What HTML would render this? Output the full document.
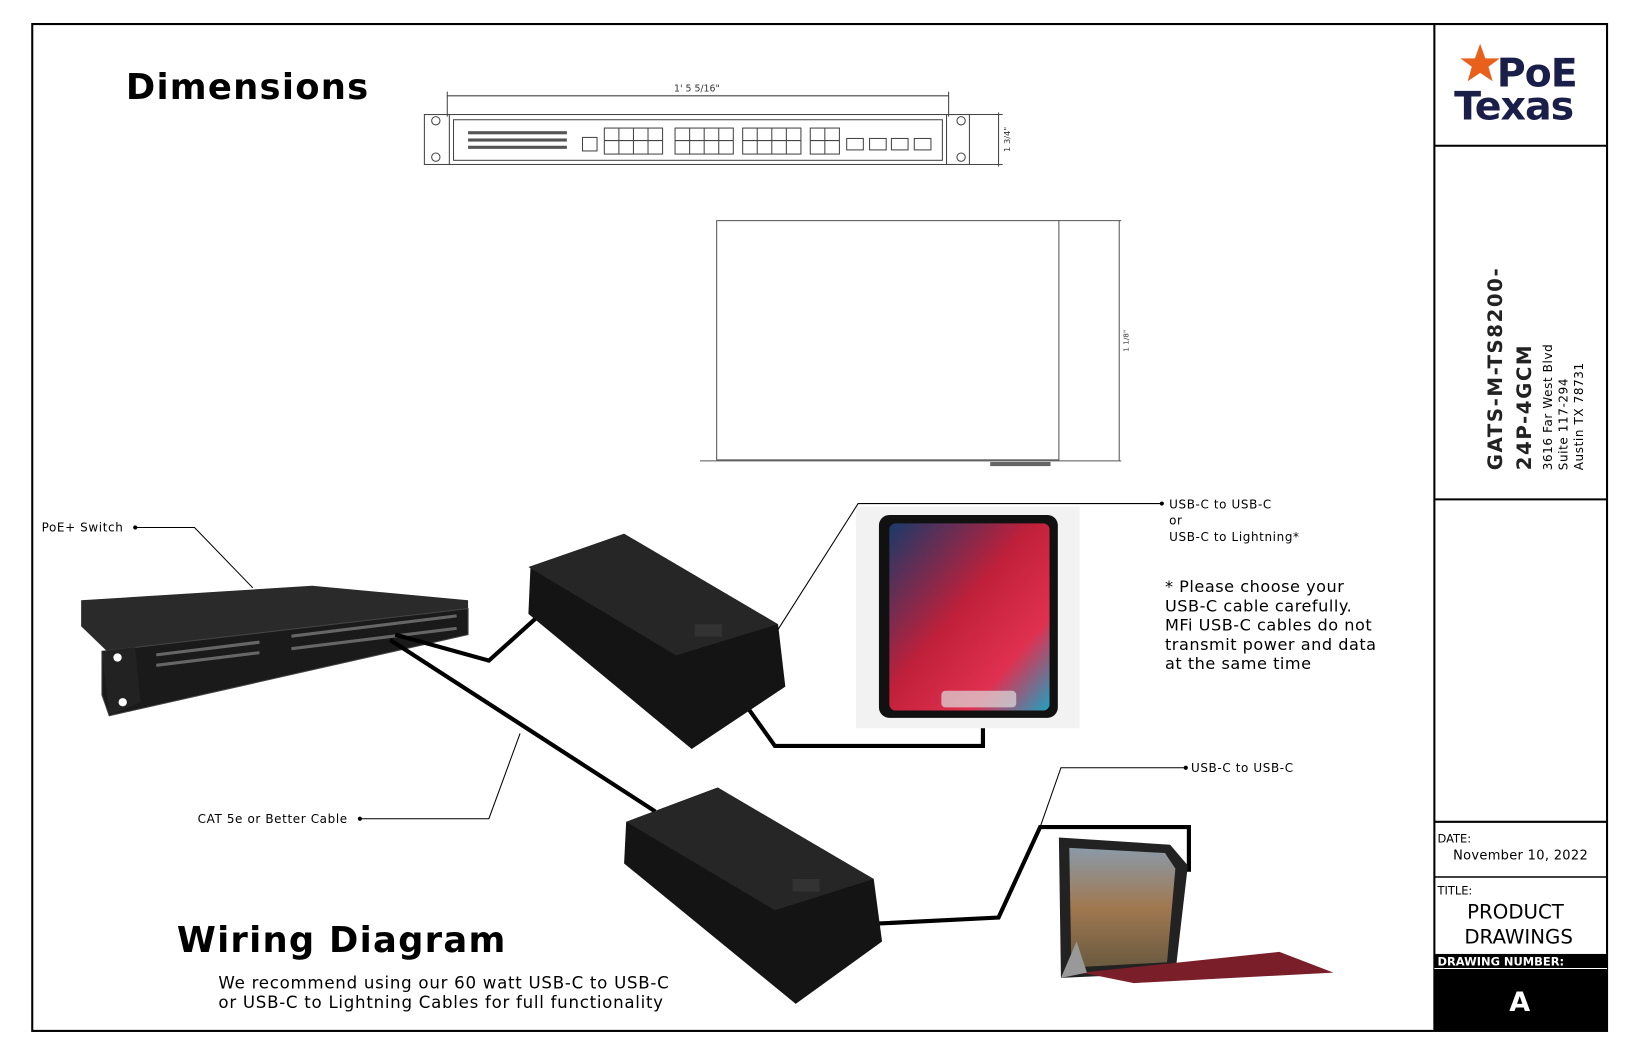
<!DOCTYPE html>
<html><head><meta charset="utf-8"><style>
html,body{margin:0;padding:0;background:#fff;}
svg{display:block;}
text{font-family:"DejaVu Sans","Liberation Sans",sans-serif;}
</style></head><body>
<svg width="1632" height="1056" viewBox="0 0 1569 1015" xmlns="http://www.w3.org/2000/svg">
<defs>
<linearGradient id="scr" x1="0" y1="0" x2="1" y2="1">
<stop offset="0" stop-color="#1a3a6a"/><stop offset="0.45" stop-color="#c0203a"/><stop offset="0.75" stop-color="#e03050"/><stop offset="1" stop-color="#20a0c0"/></linearGradient>
<linearGradient id="lap" x1="0" y1="0" x2="0" y2="1">
<stop offset="0" stop-color="#8a9aa8"/><stop offset="0.5" stop-color="#a07850"/><stop offset="1" stop-color="#6a5a40"/></linearGradient>
</defs>
<rect x="31" y="23" width="1514" height="968" fill="none" stroke="#000" stroke-width="2"/>
<line x1="1379" y1="23" x2="1379" y2="991" stroke="#000" stroke-width="2"/>
<line x1="1379" y1="140" x2="1545" y2="140" stroke="#000" stroke-width="2"/>
<line x1="1379" y1="480" x2="1545" y2="480" stroke="#000" stroke-width="2"/>
<line x1="1379" y1="790" x2="1545" y2="790" stroke="#000" stroke-width="2"/>
<line x1="1379" y1="843" x2="1545" y2="843" stroke="#000" stroke-width="1.5"/>
<rect x="1379" y="917" width="166" height="74" fill="#000"/>
<text x="1382" y="928" font-size="11" font-weight="bold" fill="#fff">DRAWING NUMBER:</text>
<line x1="1379" y1="931" x2="1545" y2="931" stroke="#fff" stroke-width="1"/>
<text x="1461" y="972" font-size="26" font-weight="bold" fill="#fff" text-anchor="middle">A</text>
<text x="1382" y="810" font-size="11">DATE:</text>
<text x="1397" y="826" font-size="12.5" letter-spacing="0.3">November 10, 2022</text>
<text x="1382" y="860" font-size="11">TITLE:</text>
<text x="1457" y="883" font-size="19" text-anchor="middle">PRODUCT</text>
<text x="1460" y="907" font-size="19" text-anchor="middle">DRAWINGS</text>
<polygon points="1423,42 1428,56 1442,56 1431,64 1435,78 1423,70 1411,78 1415,64 1404,56 1418,56" fill="#e8601c"/>
<text x="1439" y="83" font-size="38" font-weight="bold" fill="#1a1f4a" font-family="Liberation Sans,sans-serif" letter-spacing="-1">PoE</text>
<text x="1398" y="115" font-size="38" font-weight="bold" fill="#1a1f4a" font-family="Liberation Sans,sans-serif" letter-spacing="-1">Texas</text>
<g transform="translate(1444,452) rotate(-90)"><text font-size="19" font-weight="bold" fill="#222" letter-spacing="1.5">GATS-M-TS8200-</text></g>
<g transform="translate(1472,452) rotate(-90)"><text font-size="19" font-weight="bold" fill="#222" letter-spacing="1.5">24P-4GCM</text></g>
<g transform="translate(1492,452) rotate(-90)"><text font-size="11.5" letter-spacing="0.6">3616 Far West Blvd</text></g>
<g transform="translate(1507,452) rotate(-90)"><text font-size="11.5" letter-spacing="0.6">Suite 117-294</text></g>
<g transform="translate(1522,452) rotate(-90)"><text font-size="11.5" letter-spacing="0.6">Austin TX 78731</text></g>
<text x="121" y="95" font-size="34" font-weight="bold" letter-spacing="1.2">Dimensions</text>
<text x="170" y="915" font-size="34" font-weight="bold" letter-spacing="1.2">Wiring Diagram</text>
<text x="210" y="950" font-size="16" letter-spacing="0.7">We recommend using our 60 watt USB-C to USB-C</text>
<text x="210" y="969" font-size="16" letter-spacing="0.7">or USB-C to Lightning Cables for full functionality</text>
<g stroke="#444" fill="none" stroke-width="1">
<line x1="430" y1="92" x2="912" y2="92"/>
<line x1="430" y1="88" x2="430" y2="112"/><line x1="912" y1="88" x2="912" y2="112"/>
<rect x="408" y="110" width="524" height="48"/>
<line x1="432" y1="110" x2="432" y2="158"/><line x1="910" y1="110" x2="910" y2="158"/>
<rect x="436" y="115" width="470" height="39"/>
<circle cx="419" cy="116" r="4"/><circle cx="419" cy="151" r="4"/><circle cx="924" cy="116" r="4"/><circle cx="924" cy="151" r="4"/>
<line x1="932" y1="110" x2="964" y2="110"/><line x1="932" y1="158" x2="964" y2="158"/><line x1="960" y1="108" x2="960" y2="160"/>
<rect x="560" y="132" width="14" height="13"/>
<rect x="581" y="123" width="56" height="25"/><line x1="595" y1="123" x2="595" y2="148"/><line x1="609" y1="123" x2="609" y2="148"/><line x1="623" y1="123" x2="623" y2="148"/><line x1="581" y1="135" x2="637" y2="135"/>
<rect x="649" y="123" width="56" height="25"/><line x1="663" y1="123" x2="663" y2="148"/><line x1="677" y1="123" x2="677" y2="148"/><line x1="691" y1="123" x2="691" y2="148"/><line x1="649" y1="135" x2="705" y2="135"/>
<rect x="714" y="123" width="56" height="25"/><line x1="728" y1="123" x2="728" y2="148"/><line x1="742" y1="123" x2="742" y2="148"/><line x1="756" y1="123" x2="756" y2="148"/><line x1="714" y1="135" x2="770" y2="135"/>
<rect x="779" y="123" width="28" height="25"/><line x1="793" y1="123" x2="793" y2="148"/><line x1="779" y1="135" x2="807" y2="135"/>
<rect x="814" y="133" width="16" height="11"/><rect x="836" y="133" width="16" height="11"/><rect x="857" y="133" width="16" height="11"/><rect x="879" y="133" width="16" height="11"/>
</g>
<g fill="#555"><rect x="450" y="126" width="95" height="3"/><rect x="450" y="133" width="95" height="3"/><rect x="450" y="140" width="95" height="3"/></g>
<text x="670" y="88" font-size="9" text-anchor="middle" fill="#333" font-family="Liberation Serif,serif">1' 5 5/16"</text>
<g transform="translate(971,146) rotate(-90)"><text font-size="8" fill="#333" font-family="Liberation Serif,serif">1 3/4"</text></g>
<g stroke="#555" fill="none" stroke-width="1">
<rect x="689" y="212" width="329" height="230"/>
<line x1="673" y1="443" x2="1078" y2="443"/>
<line x1="1018" y1="212" x2="1078" y2="212"/>
<line x1="1076" y1="212" x2="1076" y2="443"/>
</g>
<rect x="952" y="444" width="58" height="4" fill="#666"/>
<g transform="translate(1085,338) rotate(-90)"><text font-size="7" fill="#333">1 1/8"</text></g>
<polygon points="78,577 300,563 450,577 450,588 105,628 78,602" fill="#2a2a2a"/>
<polygon points="98,626 450,585 450,610 105,688 98,668" fill="#1a1a1a" stroke="#444"/>
<polygon points="98,626 130,622 135,675 105,688" fill="#222"/>
<circle cx="113" cy="632" r="4" fill="#fff"/><circle cx="118" cy="675" r="4" fill="#fff"/>
<g fill="#666"><rect x="150" y="628" width="100" height="3" transform="rotate(-7 150 628)"/><rect x="150" y="638" width="100" height="3" transform="rotate(-7 150 638)"/><rect x="280" y="610" width="160" height="3" transform="rotate(-7 280 610)"/><rect x="280" y="622" width="160" height="3" transform="rotate(-7 280 622)"/></g>
<g stroke="#000" stroke-width="4" fill="none">
<polyline points="380,610 470,635 520,590"/>
<polyline points="375,615 630,780"/>
<polyline points="715,675 745,717 945,717 945,690"/>
<polyline points="800,890 960,882 1000,795 1143,795 1143,838"/>
</g>
<polygon points="510,545 600,513 748,600 755,660 665,720 508,590" fill="#141414"/>
<polygon points="508,545 600,513 748,600 650,630" fill="#262626"/>
<rect x="668" y="600" width="26" height="12" fill="#333"/>
<polygon points="602,790 690,757 840,845 848,905 765,965 600,830" fill="#141414"/>
<polygon points="602,790 690,757 840,845 745,875" fill="#262626"/>
<rect x="762" y="845" width="26" height="12" fill="#333"/>
<rect x="823" y="487" width="215" height="213" fill="#f2f2f2"/>
<rect x="845" y="495" width="172" height="195" rx="10" fill="#111"/>
<rect x="855" y="503" width="154" height="180" rx="6" fill="url(#scr)"/>
<rect x="905" y="664" width="72" height="16" rx="4" fill="#ddd" opacity="0.7"/>
<polygon points="1018,805 1125,812 1142,832 1130,935 1020,940" fill="#222"/>
<polygon points="1028,815 1120,820 1130,835 1122,925 1030,930" fill="url(#lap)"/>
<polygon points="1040,935 1230,915 1282,935 1090,945" fill="#7a1f2a"/>
<polygon points="1020,940 1035,905 1045,935" fill="#999"/>
<g stroke="#000" stroke-width="1" fill="none">
<polyline points="130,507 187,507 243,565"/>
<polyline points="346,787 470,787 500,705"/>
<polyline points="1117,484 825,484 748,605"/>
<polyline points="1140,738 1020,738 1000,795"/>
</g>
<g fill="#000"><circle cx="130" cy="507" r="2"/><circle cx="346" cy="787" r="2"/><circle cx="1117" cy="484" r="2"/><circle cx="1140" cy="738" r="2"/></g>
<g font-size="11.5" letter-spacing="0.6">
<text x="40" y="511">PoE+ Switch</text>
<text x="190" y="791">CAT 5e or Better Cable</text>
<text x="1124" y="489">USB-C to USB-C</text>
<text x="1124" y="504">or</text>
<text x="1124" y="520">USB-C to Lightning*</text>
<text x="1145" y="742">USB-C to USB-C</text>
</g>
<g font-size="15.5" letter-spacing="0.5"><text x="1120" y="569">* Please choose your</text><text x="1120" y="588">USB-C cable carefully.</text><text x="1120" y="606">MFi USB-C cables do not</text><text x="1120" y="625">transmit power and data</text><text x="1120" y="643">at the same time</text></g>
</svg>
</body></html>
